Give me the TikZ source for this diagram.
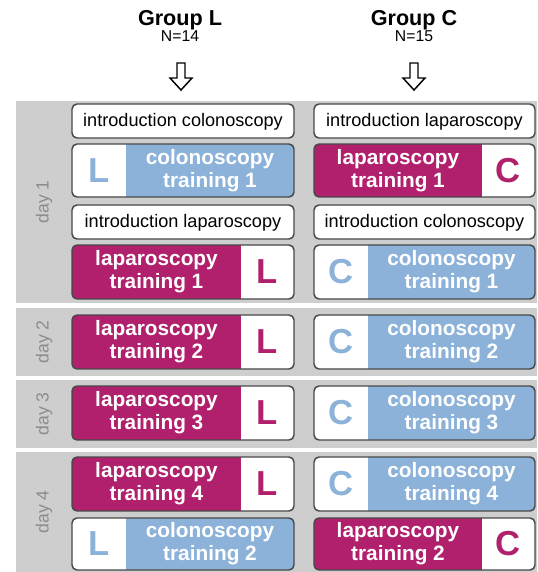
\documentclass[tikz,border=0pt]{standalone}
\usepackage{fontspec}
\setmainfont{Liberation Sans}
\definecolor{lapcol}{RGB}{176,32,108}
\definecolor{colcol}{RGB}{140,178,217}
\definecolor{bandcol}{RGB}{206,206,206}
\definecolor{bordercol}{RGB}{72,72,72}
\definecolor{daycol}{RGB}{140,140,140}
\tikzset{
  boxline/.style={draw=bordercol,line width=1.1pt,rounded corners=3.75pt},
  traintext/.style={text=white,font=\bfseries\fontsize{15.6}{17.3}\selectfont,align=center,inner sep=0pt},
  bigletter/.style={font=\bfseries\fontsize{26}{26}\selectfont,inner sep=0pt},
  introtext/.style={font=\fontsize{13.6}{15}\selectfont,inner sep=0pt},
  daytext/.style={text=daycol,font=\fontsize{13.2}{15}\selectfont,rotate=90,inner sep=0pt},
  grouptext/.style={font=\bfseries\fontsize{16.2}{18}\selectfont,inner sep=0pt,anchor=base},
  ntext/.style={font=\fontsize{11.8}{13}\selectfont,inner sep=0pt,anchor=base},
  hollowarrow/.style={draw=black,fill=white,line width=1.1pt,line join=miter}
}
% #1 name, #2 x1, #3 y1, #4 x2, #5 y2, #6 number, #7 letter
\newcommand\lapbox[7]{%
  \begin{scope}
    \clip[rounded corners=3.75pt] (#2,#3) rectangle (#4,#5);
    \fill[white] (#2,#3) rectangle (#4,#5);
    \fill[lapcol] (#2,#3) rectangle ({#4-53},#5);
  \end{scope}
  \draw[boxline] (#2,#3) rectangle (#4,#5);
  \node[traintext] (#1-t) at ({(#2+#4-53)/2},{(#3+#5)/2}) {laparoscopy\\training #6};
  \node[bigletter,text=lapcol] (#1-l) at ({#4-26.5},{(#3+#5)/2}) {#7};
}
\newcommand\colbox[7]{%
  \begin{scope}
    \clip[rounded corners=3.75pt] (#2,#3) rectangle (#4,#5);
    \fill[white] (#2,#3) rectangle (#4,#5);
    \fill[colcol] ({#2+54},#3) rectangle (#4,#5);
  \end{scope}
  \draw[boxline] (#2,#3) rectangle (#4,#5);
  \node[traintext] (#1-t) at ({(#2+54+#4)/2},{(#3+#5)/2}) {colonoscopy\\training #6};
  \node[bigletter,text=colcol] (#1-l) at ({#2+27},{(#3+#5)/2}) {#7};
}
\newcommand\introbox[6]{%
  \draw[boxline,fill=white] (#2,#3) rectangle (#4,#5);
  \node[introtext] (#1) at ({(#2+#4)/2},{(#3+#5)/2+1}) {#6};
}
\newcommand\harrow[2]{%
  \coordinate (#1) at (#2,63);
  \draw[hollowarrow] ({#2-4},63) -- ({#2-4},78) -- ({#2-11},78) -- (#2,90)
    -- ({#2+11},78) -- ({#2+4},78) -- ({#2+4},63) -- cycle;
}
\begin{document}
\begin{tikzpicture}[x=0.75pt,y=-0.75pt]
\useasboundingbox (0,0) rectangle (537,572);
% day bands
\fill[bandcol] (16,101) rectangle (537,303);
\fill[bandcol] (16,308) rectangle (537,376);
\fill[bandcol] (16,380) rectangle (537,448);
\fill[bandcol] (16,452) rectangle (537,572);
% headers
\node[grouptext] (gL) at (180,25) {Group L};
\node[ntext] (nL) at (180,41.5) {N=14};
\node[grouptext] (gC) at (414,25) {Group C};
\node[ntext] (nC) at (414,41.5) {N=15};
\harrow{aL}{181}
\harrow{aC}{414}
% day labels
\node[daytext] (d1) at (44,202) {day 1};
\node[daytext] (d2) at (44,342) {day 2};
\node[daytext] (d3) at (44,414) {day 3};
\node[daytext] (d4) at (44,512) {day 4};
% day 1
\introbox{iL1}{72}{104}{294}{138}{introduction colonoscopy}
\colbox{cL1}{72}{144}{294}{197}{1}{L}
\introbox{iL2}{72}{205}{294}{239}{introduction laparoscopy}
\lapbox{lL1}{72}{245}{294}{299}{1}{L}
\introbox{iC1}{314}{104}{535}{138}{introduction laparoscopy}
\lapbox{lC1}{314}{144}{535}{197}{1}{C}
\introbox{iC2}{314}{205}{535}{239}{introduction colonoscopy}
\colbox{cC1}{314}{245}{535}{299}{1}{C}
% day 2
\lapbox{lL2}{72}{315}{294}{369}{2}{L}
\colbox{cC2}{314}{315}{535}{369}{2}{C}
% day 3
\lapbox{lL3}{72}{386}{294}{440}{3}{L}
\colbox{cC3}{314}{386}{535}{440}{3}{C}
% day 4
\lapbox{lL4}{72}{457}{294}{511}{4}{L}
\colbox{cC4}{314}{457}{535}{511}{4}{C}
\colbox{cL2}{72}{518}{294}{570}{2}{L}
\lapbox{lC2}{314}{518}{535}{570}{2}{C}
\end{tikzpicture}
\end{document}
